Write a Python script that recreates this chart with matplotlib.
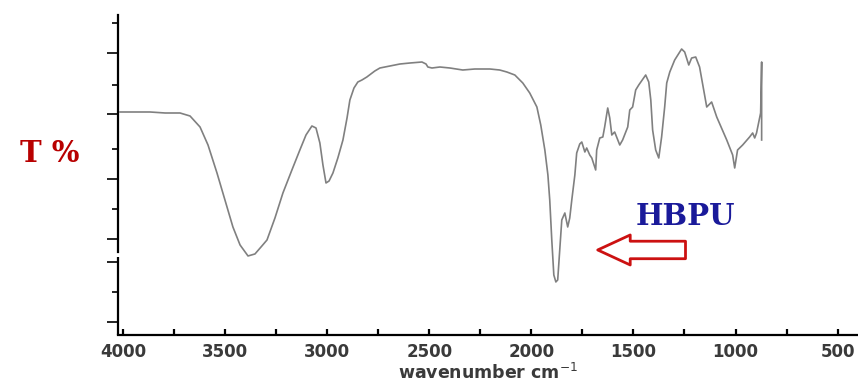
import numpy as np
import matplotlib.pyplot as plt

# FTIR spectrum of HBPU (wavenumber cm-1, transmittance in arbitrary units)
wavenumber = [4015, 3868, 3794, 3721, 3672, 3623, 3584, 3540, 3501, 3462, 3427, 3388,
              3354, 3320, 3295, 3256, 3217, 3173, 3134, 3104, 3075, 3055, 3036, 3021,
              3006, 2991, 2972, 2948, 2923, 2903, 2889, 2869, 2850, 2830, 2806, 2767,
              2742, 2693, 2644, 2595, 2536, 2516, 2507, 2487, 2448, 2399, 2336, 2277,
              2203, 2155, 2120, 2081, 2042, 2008, 1973, 1954, 1934, 1919, 1910, 1900,
              1890, 1880, 1871, 1861, 1851, 1836, 1822, 1812, 1802, 1787, 1778, 1763,
              1753, 1738, 1729, 1714, 1704, 1685, 1680, 1665, 1650, 1641, 1626, 1616,
              1606, 1592, 1567, 1553, 1528, 1518, 1504, 1489, 1474, 1440, 1425, 1415,
              1406, 1391, 1376, 1362, 1347, 1337, 1322, 1298, 1264, 1249, 1229, 1215,
              1195, 1176, 1141, 1117, 1092, 1043, 1014, 1004, 990, 965, 931, 916,
              906, 897, 877, 872, 872]
transmittance = [223, 223, 222, 222, 219, 208, 190, 162, 135, 108, 90, 79,
                 81, 89, 95, 117, 142, 165, 185, 200, 209, 207, 192, 170,
                 152, 154, 162, 177, 195, 217, 235, 247, 253, 255, 258, 264,
                 267, 269, 271, 272, 273, 271, 268, 267, 268, 267, 265, 266,
                 266, 265, 263, 260, 252, 242, 228, 210, 185, 160, 135, 95,
                 60, 53, 55, 85, 115, 122, 108, 117, 135, 160, 182, 191,
                 193, 183, 187, 180, 177, 165, 185, 197, 198, 208, 227, 217,
                 200, 203, 190, 195, 208, 225, 228, 245, 250, 260, 253, 235,
                 205, 185, 177, 198, 228, 252, 263, 275, 286, 283, 270, 277,
                 278, 268, 228, 233, 218, 195, 180, 167, 185, 190, 198, 202,
                 197, 202, 222, 273, 195]

x_major = [4000, 3500, 3000, 2500, 2000, 1500, 1000, 500]
x_minor = [3750, 3250, 2750, 2250, 1750, 1250, 750]
y_major = [282, 221, 156, 96, 73, 13]
y_minor = [312, 250, 186, 126, 43]

fig = plt.figure(figsize=(8.58, 3.85), dpi=100)
ax = fig.add_axes([0.1375, 0.13, 0.8625, 0.831])

ax.plot(wavenumber, transmittance, color='#808080', lw=1.2)

ax.set_xlim(4025, 400)
ax.set_ylim(0, 320)

for s in ['top', 'right']:
    ax.spines[s].set_visible(False)
ax.spines['bottom'].set_linewidth(1.6)
ax.spines['left'].set_linewidth(1.6)
ax.spines['left'].set_bounds(83, 320)
# lower piece of the broken y axis
ax.plot([0, 0], [0, 78], transform=ax.get_yaxis_transform(), color='black',
        lw=1.6, clip_on=False, solid_capstyle='butt')

ax.set_xticks(x_major)
ax.set_xticks(x_minor, minor=True)
ax.set_xticklabels([str(v) for v in x_major], fontsize=12, fontweight='bold',
                   color='#3a3a3a')
ax.tick_params(axis='x', which='both', direction='in', length=4, width=1.6, pad=6)

ax.set_yticks(y_major)
ax.set_yticks(y_minor, minor=True)
ax.set_yticklabels([])
ax.tick_params(axis='y', which='major', direction='out', length=8, width=1.2)
ax.tick_params(axis='y', which='minor', direction='out', length=4, width=1.2)

ax.set_xlabel('wavenumber cm$^{-1}$', fontsize=12.5, fontweight='bold',
              color='#3a3a3a', labelpad=1)

fig.text(0.058, 0.60, 'T %', fontsize=21, fontweight='bold', color='#b80000',
         family='DejaVu Serif', ha='center', va='center')

ax.text(1245, 118, 'HBPU', fontsize=21, fontweight='bold', color='#1a1a9a',
        family='DejaVu Serif', ha='center', va='center')

ax.annotate('', xy=(1675, 85), xytext=(1245, 85),
            arrowprops=dict(arrowstyle='simple,head_width=1.2,head_length=1.3,tail_width=0.7',
                            fc='white', ec='#cc1111', lw=2.0, shrinkA=0, shrinkB=0,
                            mutation_scale=18))

fig.savefig('out.png', dpi=100)
